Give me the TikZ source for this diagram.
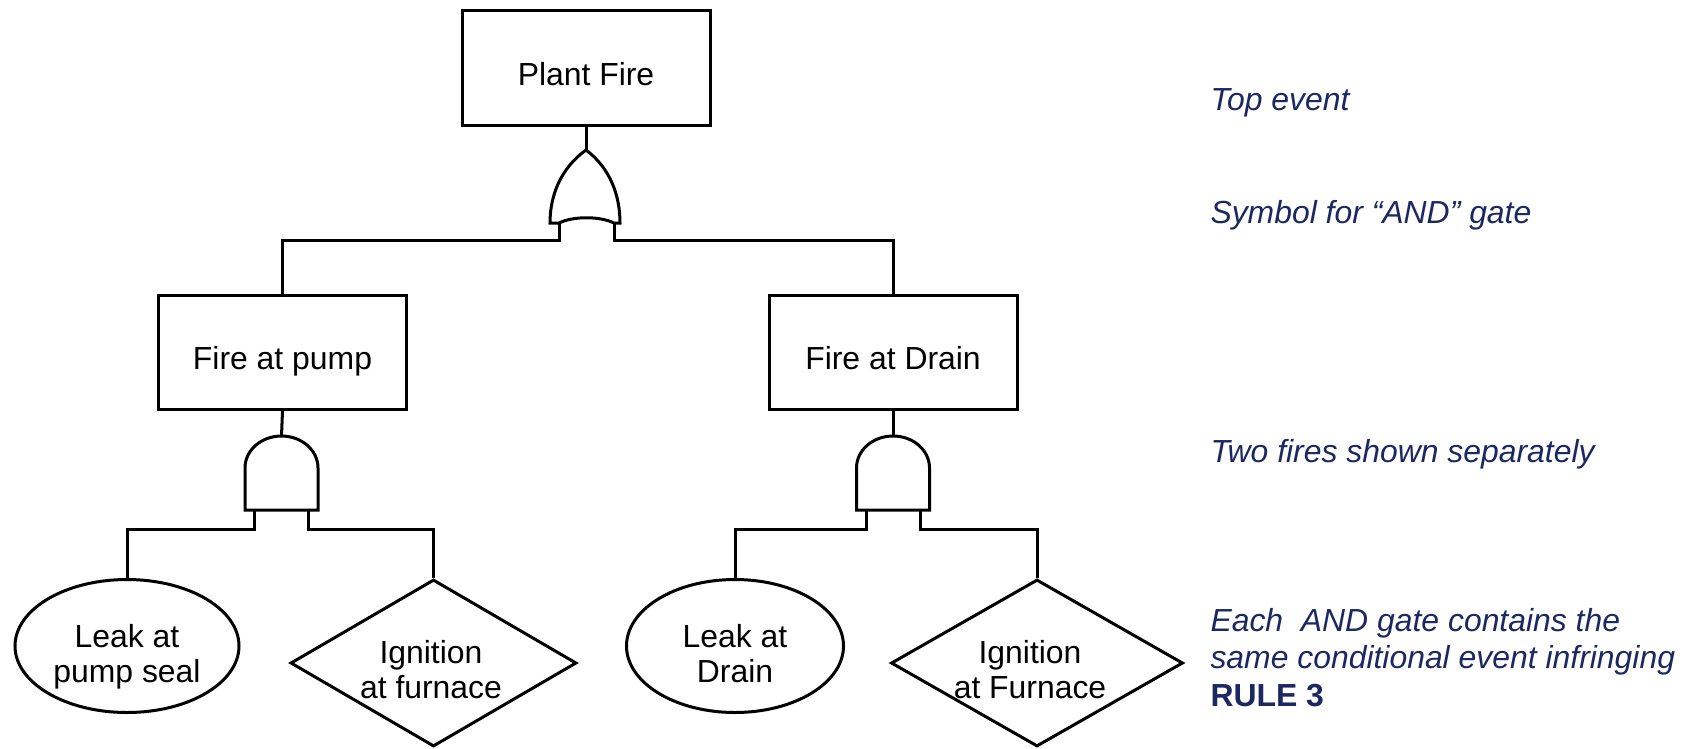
\documentclass[tikz,border=0pt]{standalone}
\usepackage{fontspec}
\setmainfont{Liberation Sans}
\usetikzlibrary{shapes.geometric}
\definecolor{navy}{RGB}{28,40,98}

\begin{document}
\begin{tikzpicture}[x=1pt, y=-1pt, line width=3pt, line join=miter,
  evbox/.style={draw, rectangle, minimum width=248pt, minimum height=115pt, inner sep=0pt},
  basic/.style={draw, ellipse, inner sep=0pt, minimum height=133pt},
  undev/.style={draw, diamond, inner sep=0pt, minimum height=167pt},
  txt/.style={inner sep=0pt, font=\fontsize{31.9}{34.5}\selectfont, align=center},
  note/.style={inner sep=0pt, font=\fontsize{31.9}{37.5}\selectfont\itshape, text=navy, align=left},
  andgate/.pic={
    \draw (-36.5,0) .. controls (-36.5,-18) and (-20,-32) .. (0,-32)
          .. controls (20,-32) and (36.5,-18) .. (36.5,0)
          -- (36.5,42) -- (-36.5,42) -- cycle;
    \coordinate (-in) at (0,-32);
    \coordinate (-l) at (-27,42);
    \coordinate (-r) at (27,42);
  }
]
\useasboundingbox (0,0) rectangle (1686,748);

% top event
\node[evbox] (top) at (586,68) {};
\node[txt, anchor=base] (topT) at (586,85) {Plant Fire};

% OR gate below the top event
\coordinate (orTip) at (586,150);
\coordinate (orL) at (559,223);
\coordinate (orR) at (614,223);
\draw (orL) -- (550,223) .. controls (550,195) and (561,168) .. (orTip)
      .. controls (610,168) and (620,195) .. (620,223) -- (orR)
      .. controls (600,216) and (573,216) .. (orL) -- cycle;
\draw (top.south) -- (orTip);

% intermediate events
\node[evbox, minimum height=114pt] (pump) at (282.5,352.5) {};
\node[txt, anchor=base] (pumpT) at (282.5,369) {Fire at pump};
\node[evbox, minimum height=114pt] (drain) at (893,352.5) {};
\node[txt, anchor=base] (drainT) at (893,369) {Fire at Drain};

\draw (orL) -- ++(0,17) -| (pump.north);
\draw (orR) -- ++(0,17) -| (drain.north);

% AND gates
\pic (gA) at (281.5,468) {andgate};
\pic (gB) at (893,468) {andgate};
\draw (pump.south) -- (gA-in);
\draw (drain.south) -- (gB-in);

% basic and undeveloped events
\node[basic, minimum width=224pt] (leak1) at (127,646) {};
\node[txt, anchor=north] (leak1T) at (127,623) {Leak at\\pump seal};
\node[undev, minimum width=286pt] (ign1) at (433.5,663) {};
\node[txt, anchor=north] (ign1T) at (431,639) {Ignition\\at furnace};

\node[basic, minimum width=217pt] (leak2) at (735,646) {};
\node[txt, anchor=north] (leak2T) at (735,623) {Leak at\\Drain};
\node[undev, minimum width=292pt] (ign2) at (1037,663) {};
\node[txt, anchor=north] (ign2T) at (1030,639) {Ignition\\at Furnace};

\draw (gA-l) -- ++(0,19) -| (leak1.north);
\draw (gA-r) -- ++(0,19) -| (ign1.north);
\draw (gB-l) -- ++(0,19) -| (leak2.north);
\draw (gB-r) -- ++(0,19) -| (ign2.north);

% notes
\node[note, anchor=base west] (nTop) at (1209,110) {Top event};
\node[note, anchor=base west] (nSym) at (1209,223) {Symbol for “AND” gate};
\node[note, anchor=base west] (nTwo) at (1209,462) {Two fires shown separately};
\node[note, anchor=north west] (nRule) at (1209,606.5) {Each\ \ AND gate contains the\\same conditional event infringing\\\textbf{\upshape RULE 3}};
\end{tikzpicture}
\end{document}
